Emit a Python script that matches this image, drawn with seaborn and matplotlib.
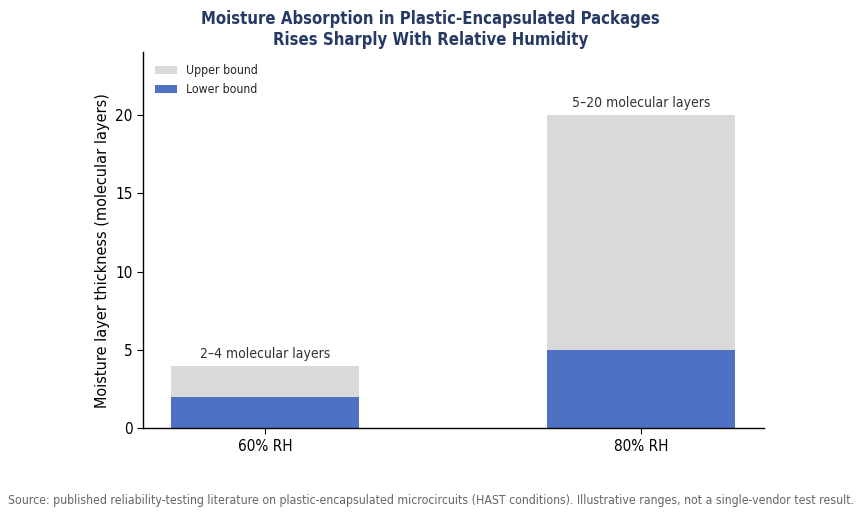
import numpy as np
import pandas as pd
import matplotlib
matplotlib.use('Agg')
import matplotlib.pyplot as plt
import seaborn as sns

# data
conditions = ['60% RH', '80% RH']
lower_bound = [2, 5]
upper_bound = [4, 20]
range_labels = ['2\u20134 molecular layers', '5\u201320 molecular layers']

df = pd.DataFrame({'cond': conditions, 'lower': lower_bound, 'upper': upper_bound})

sns.set_style('white')
plt.rcParams['font.family'] = ['DejaVu Sans']
plt.rcParams['font.stretch'] = 'condensed'

fig, ax = plt.subplots(figsize=(8.61, 5.16), dpi=100)
fig.subplots_adjust(left=0.166, right=0.887, top=0.899, bottom=0.17)

sns.barplot(data=df, x='cond', y='upper', color='#d9d9d9', width=0.5,
            label='Upper bound', ax=ax, saturation=1, linewidth=0)
sns.barplot(data=df, x='cond', y='lower', color='#4f71c4', width=0.5,
            label='Lower bound', ax=ax, saturation=1, linewidth=0)

for i, (u, txt) in enumerate(zip(upper_bound, range_labels)):
    ax.text(i, u + 0.3, txt, ha='center', va='bottom', fontsize=10, color='#333333')

ax.set_xlim(-0.325, 1.325)
ax.set_ylim(0, 24)
ax.set_yticks([0, 5, 10, 15, 20])
ax.set_xlabel('')
ax.set_ylabel('Moisture layer thickness (molecular layers)', fontsize=11.6, color='black')
ax.yaxis.set_label_coords(-0.053, 0.473)
ax.tick_params(axis='both', labelsize=11, length=4, bottom=True, left=True,
               colors='black')
sns.despine(ax=ax)
for s in ['left', 'bottom']:
    ax.spines[s].set_color('black')
    ax.spines[s].set_linewidth(1)

ax.legend(loc='upper left', frameon=False, fontsize=8.8, handlelength=1.8,
          handletextpad=0.7, borderaxespad=0.6)

fig.suptitle('Moisture Absorption in Plastic-Encapsulated Packages\nRises Sharply With Relative Humidity',
             fontsize=12, fontweight='bold', color='#263a66', y=0.98)
fig.text(0.5, 0.018, 'Source: published reliability-testing literature on plastic-encapsulated '
         'microcircuits (HAST conditions). Illustrative ranges, not a single-vendor test result.',
         ha='center', va='bottom', fontsize=8.8, color='#666666')

fig.savefig('out.png', dpi=100)
